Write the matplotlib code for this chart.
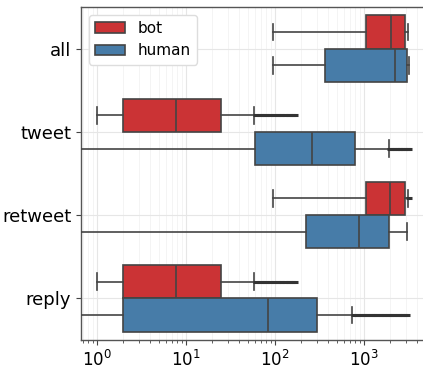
import matplotlib.pyplot as plt
from matplotlib.patches import Patch
from matplotlib.ticker import LogLocator, NullFormatter

# ==============================
# Data
# ==============================
categories = ["all", "tweet", "retweet", "reply"]
hues = ["bot", "human"]

bot_lo = [97, 1, 95, 1]
bot_q1 = [1075, 2, 1060, 2]
bot_med = [2050, 7.8, 2000, 7.8]
bot_q3 = [2900, 25, 2940, 25]
bot_hi = [3150, 59, 3170, 59]
bot_fliers = [
    [],
    [62, 68, 74, 81, 89, 98, 108, 119, 131, 145, 158, 168],
    [3250],
    [62, 68, 74, 81, 89, 98, 108, 119, 131, 145, 158, 168],
]

human_lo = [97, 0, 0, 0]
human_q1 = [367, 60, 226, 2]
human_med = [2240, 263, 888, 85]
human_q3 = [3100, 800, 1940, 300]
human_hi = [3200, 1920, 3040, 740]
human_fliers = [
    [],
    [2000, 2150, 2300, 2480, 2660, 2860, 3070, 3200],
    [],
    [780, 850, 930, 1010, 1100, 1200, 1310, 1430, 1560, 1700, 1860,
     2030, 2210, 2410, 2630, 2880, 3050],
]

# ==============================
# Style
# ==============================
RED = "#cb3335"
BLUE = "#477ca8"
EDGE = "#444444"
LW = 1.2

fig = plt.figure(figsize=(4.23, 3.69), dpi=100)
ax = fig.add_axes([81 / 423, 29 / 369, 344 / 423, 333 / 369])


def make_stats(lo, q1, med, q3, hi, fl):
    return [dict(whislo=a, q1=b, med=c, q3=d, whishi=e, fliers=f)
            for a, b, c, d, e, f in zip(lo, q1, med, q3, hi, fl)]


series = [
    (make_stats(bot_lo, bot_q1, bot_med, bot_q3, bot_hi, bot_fliers), RED, -0.2),
    (make_stats(human_lo, human_q1, human_med, human_q3, human_hi, human_fliers), BLUE, 0.2),
]

for stats, color, offset in series:
    pos = [i + offset for i in range(len(categories))]
    ax.bxp(stats, positions=pos, widths=0.4, capwidths=0.2, vert=False,
           patch_artist=True, manage_ticks=False,
           boxprops=dict(facecolor=color, edgecolor=EDGE, linewidth=LW),
           medianprops=dict(color=EDGE, linewidth=LW),
           whiskerprops=dict(color=EDGE, linewidth=LW),
           capprops=dict(color=EDGE, linewidth=LW),
           # dense fliers merge into a thick dark bar like in the original
           flierprops=dict(marker="_", markersize=4.5, markeredgewidth=2.2,
                           markeredgecolor="#333333", linestyle="none"),
           zorder=3)

# ==============================
# Axes
# ==============================
ax.set_xscale("log")
ax.set_xlim(10 ** -0.176, 10 ** 3.69)
ax.set_ylim(3.5, -0.5)
ax.set_yticks(range(len(categories)))
ax.set_yticklabels(categories, fontsize=13)
ax.xaxis.set_major_locator(LogLocator(base=10, numticks=10))
ax.xaxis.set_minor_locator(LogLocator(base=10, subs=range(2, 10), numticks=20))
ax.xaxis.set_minor_formatter(NullFormatter())
ax.tick_params(axis="x", which="major", labelsize=12, length=3.5, color=EDGE)
ax.tick_params(axis="x", which="minor", length=2, color=EDGE)
ax.tick_params(axis="y", length=3.5, color=EDGE)

ax.grid(True, which="major", color="#e6e6e6", linewidth=0.8, zorder=0)
ax.grid(True, which="minor", axis="x", color="#f2f2f2", linewidth=0.6, zorder=0)
ax.set_axisbelow(True)
for s in ax.spines.values():
    s.set_color("#555555")
    s.set_linewidth(1.0)

handles = [Patch(facecolor=RED, edgecolor=EDGE, linewidth=LW, label="bot"),
           Patch(facecolor=BLUE, edgecolor=EDGE, linewidth=LW, label="human")]
ax.legend(handles=handles, loc="upper left", fontsize=11, framealpha=1,
          edgecolor="#dddddd")

fig.savefig("out.png", dpi=100)
